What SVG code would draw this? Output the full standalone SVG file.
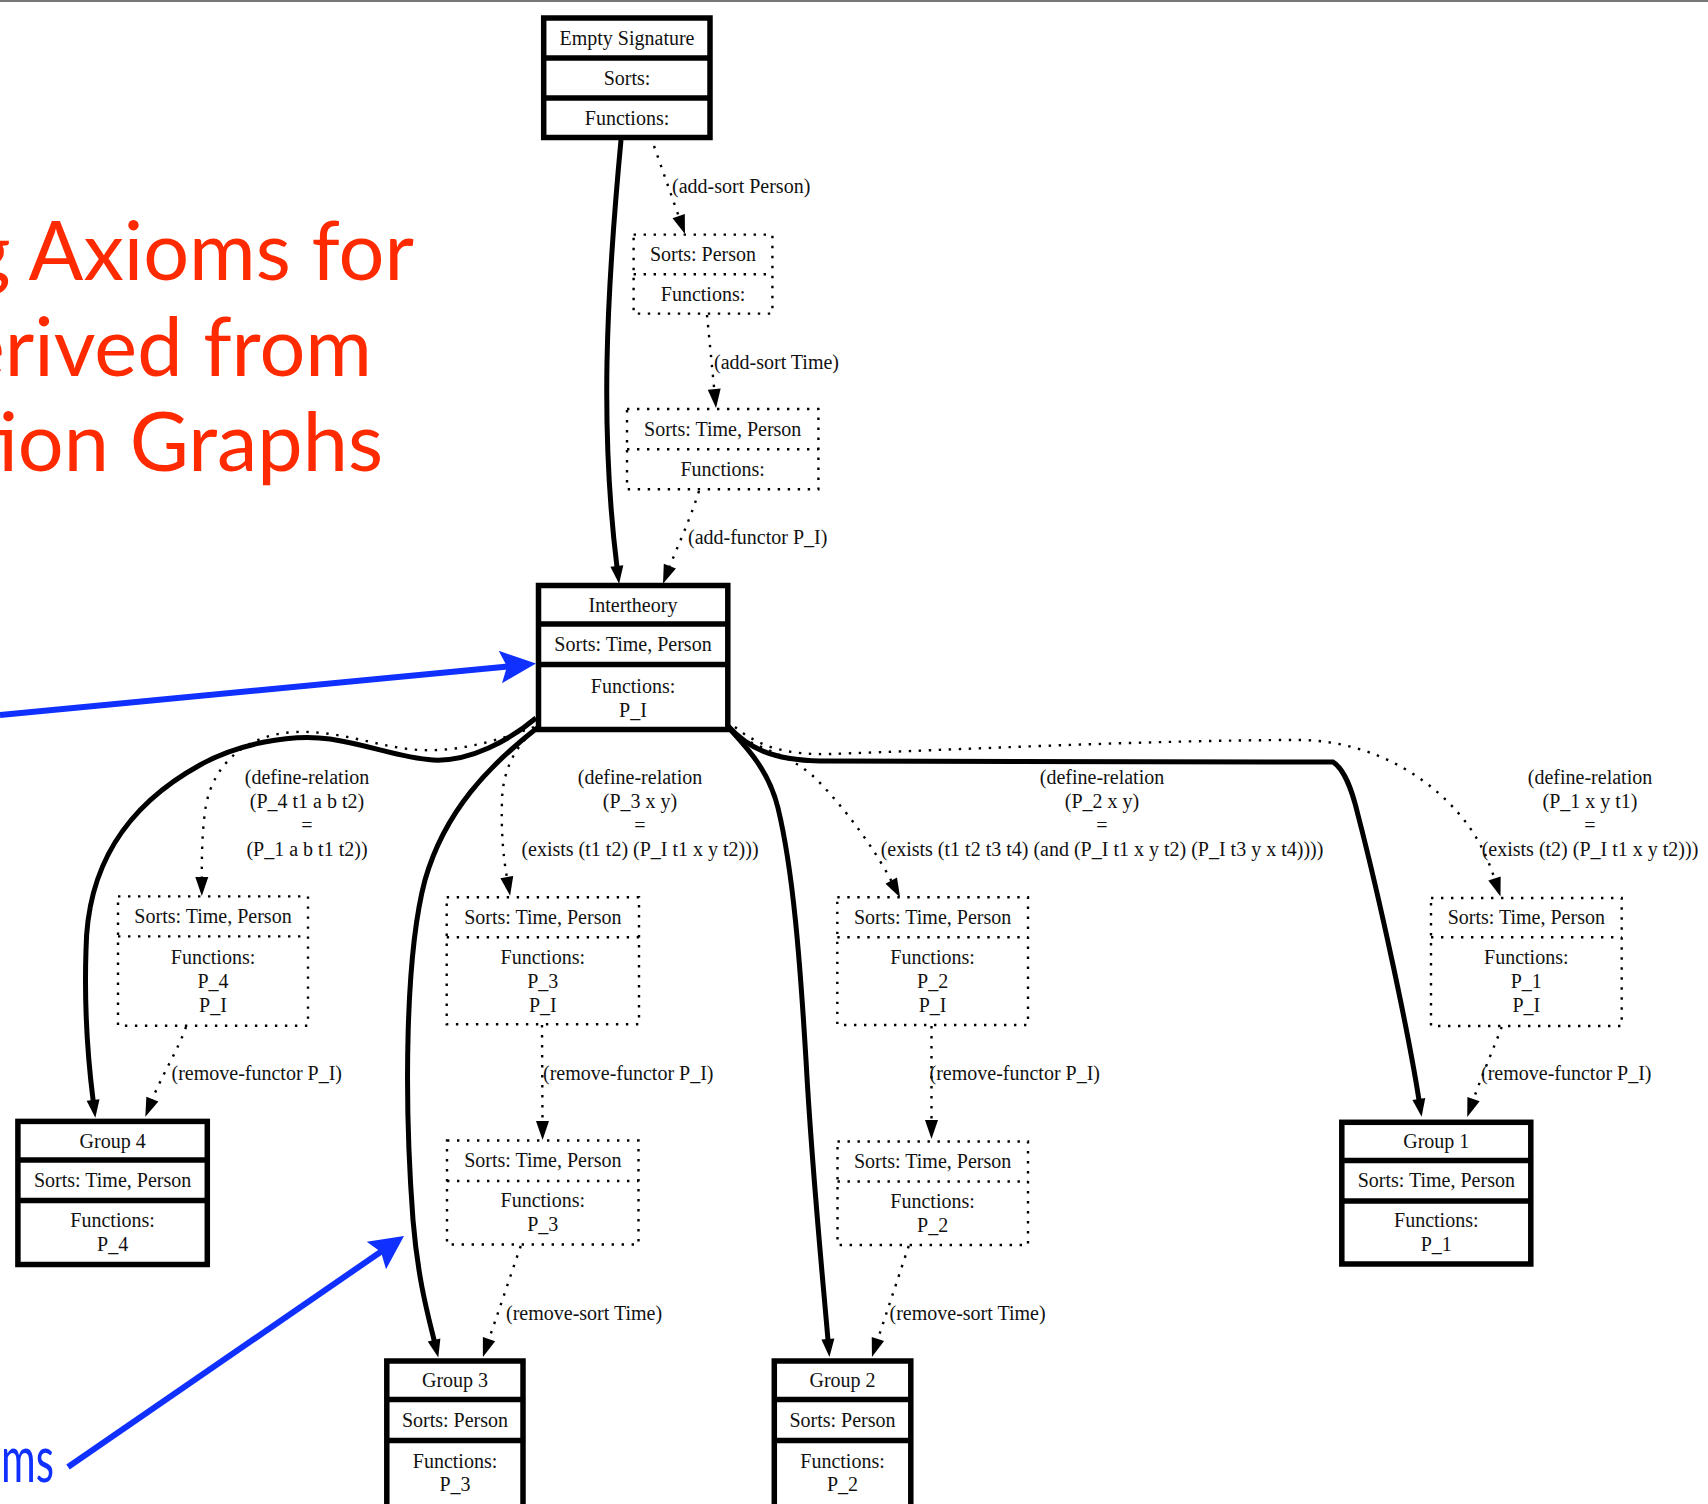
<svg xmlns="http://www.w3.org/2000/svg" width="1708" height="1504" viewBox="0 0 1708 1504">
<defs>
<style>
.sb{fill:#fff;stroke:#000;stroke-width:5.5}
.sd{stroke:#000;stroke-width:5.5;fill:none}
.db{fill:none;stroke:#000;stroke-width:2.4;stroke-dasharray:2.4 7.6}
.t{font-family:"Liberation Serif","Times New Roman",serif;font-size:20px;fill:#111;text-anchor:middle}
.l{font-family:"Liberation Serif","Times New Roman",serif;font-size:20px;fill:#111}
.es{fill:none;stroke:#000;stroke-width:5;marker-end:url(#ahs)}
.ed{fill:none;stroke:#000;stroke-width:2.4;stroke-dasharray:2.4 7.6;marker-end:url(#ahd)}
.title{font-family:Lato,"Open Sans",sans-serif;font-size:81px;fill:#ff2a00;text-anchor:end}
.btxt{font-family:Lato,"Open Sans",sans-serif;font-size:64px;fill:#1030ff}
.bl{stroke:#1030ff;stroke-width:6;fill:none}
.bh{fill:#1030ff}
</style>
<marker id="ahs" viewBox="-2 -8 21 16" markerWidth="21" markerHeight="16" refX="0" refY="0" orient="auto" markerUnits="userSpaceOnUse"><path d="M-1,-6.5 L17,0 L-1,6.5 z" fill="#000"/></marker>
<marker id="ahd" viewBox="-2 -8 21 16" markerWidth="21" markerHeight="16" refX="0" refY="0" orient="auto" markerUnits="userSpaceOnUse"><path d="M-1,-6.5 L18,0 L-1,6.5 z" fill="#000"/></marker>
</defs>
<rect x="0" y="0" width="1708" height="1504" fill="#fff"/>
<rect x="0" y="0" width="1708" height="2" fill="#777"/>

<g id="title">
<text class="title" x="414" y="280">g Axioms for</text>
<text class="title" x="372" y="376">erived from</text>
<text class="title" x="383" y="471">tion Graphs</text>
<text class="btxt" x="1" y="1482" textLength="53" lengthAdjust="spacingAndGlyphs">ms</text>
</g>

<g id="edges">
<path class="es" d="M621,140 C606,300 600,430 617,567"/>
<path class="ed" d="M654,146 L679,217"/>
<path class="ed" d="M707,315 L714.3,390"/>
<path class="ed" d="M699,491 C690,520 678,545 669.5,567"/>
<path class="es" d="M536,718 C510,740 470,762 433,760 C400,758 370,745 330,739 C290,733 235,745 200,765 C122,808 87,870 86,950 C84,1010 88,1060 93.2,1101"/>
<path class="ed" d="M534,727 C500,740 460,752 420,750 C380,748 340,730 295,732 C250,734 215,760 206,805 C202,830 201.8,855 201.8,878"/>
<path class="es" d="M537,728 C490,765 445,810 425,880 C405,955 404,1100 413,1220 C418,1280 428,1315 434.3,1341"/>
<path class="ed" d="M532,732 C515,748 503,770 502,800 C501,830 503,855 507,878"/>
<path class="es" d="M728,727 C745,746 768,768 778,808 C793,870 800,960 806,1060 C812,1170 822,1270 828,1340"/>
<path class="ed" d="M733,733 C765,752 795,755 822,785 C850,815 875,850 891.7,881.5"/>
<path class="es" d="M728,726 C748,748 772,760 820,761 L1333,762 C1345,770 1352,790 1358,815 C1380,900 1408,1030 1419,1100"/>
<path class="ed" d="M735,727 C760,748 790,755 830,754 C950,750 1150,740 1300,740 C1380,741 1440,785 1470,828 C1482,845 1489,862 1494.8,879.4"/>
<path class="ed" d="M186,1027 C178,1050 162,1075 152,1100"/>
<path class="ed" d="M542,1025 L542.5,1122"/>
<path class="ed" d="M520.7,1246 L488.7,1340"/>
<path class="ed" d="M931.5,1026 L931.5,1121"/>
<path class="ed" d="M908.7,1246 L877.6,1340"/>
<path class="ed" d="M1501.7,1027 C1495,1045 1482,1075 1473.2,1100"/>
</g>

<g id="edge-labels">
<text class="l" x="672" y="192.5">(add-sort Person)</text>
<text class="l" x="714" y="368.5">(add-sort Time)</text>
<text class="l" x="688" y="543.5">(add-functor P_I)</text>
<text class="t" x="307" y="784">(define-relation</text>
<text class="t" x="307" y="808">(P_4 t1 a b t2)</text>
<text class="t" x="307" y="832">=</text>
<text class="t" x="307" y="856">(P_1 a b t1 t2))</text>
<text class="t" x="640" y="784">(define-relation</text>
<text class="t" x="640" y="808">(P_3 x y)</text>
<text class="t" x="640" y="832">=</text>
<text class="t" x="640" y="856">(exists (t1 t2) (P_I t1 x y t2)))</text>
<text class="t" x="1102" y="784">(define-relation</text>
<text class="t" x="1102" y="808">(P_2 x y)</text>
<text class="t" x="1102" y="832">=</text>
<text class="t" x="1102" y="856">(exists (t1 t2 t3 t4) (and (P_I t1 x y t2) (P_I t3 y x t4))))</text>
<text class="t" x="1590" y="784">(define-relation</text>
<text class="t" x="1590" y="808">(P_1 x y t1)</text>
<text class="t" x="1590" y="832">=</text>
<text class="t" x="1590" y="856">(exists (t2) (P_I t1 x y t2)))</text>
<text class="l" x="171.5" y="1079.5">(remove-functor P_I)</text>
<text class="l" x="543" y="1079.5">(remove-functor P_I)</text>
<text class="l" x="929.5" y="1079.5">(remove-functor P_I)</text>
<text class="l" x="1481" y="1079.5">(remove-functor P_I)</text>
<text class="l" x="506" y="1319.5">(remove-sort Time)</text>
<text class="l" x="889.5" y="1319.5">(remove-sort Time)</text>
</g>

<g id="n_empty">
<rect class="sb" x="543.7" y="18" width="166.3" height="119.5"/>
<path class="sd" d="M543.7,58 H710 M543.7,98 H710"/>
<text class="t" x="627" y="45">Empty Signature</text>
<text class="t" x="627" y="85">Sorts:</text>
<text class="t" x="627" y="124.5">Functions:</text>
</g>

<g id="n_person">
<rect class="db" x="633.6" y="234.6" width="138.8" height="79"/>
<path class="db" d="M633.6,274.3 H772.4"/>
<text class="t" x="703" y="261">Sorts: Person</text>
<text class="t" x="703" y="300.5">Functions:</text>
</g>

<g id="n_timeperson">
<rect class="db" x="627" y="409" width="191.4" height="80.3"/>
<path class="db" d="M627,449.3 H818.4"/>
<text class="t" x="722.7" y="435.5">Sorts: Time, Person</text>
<text class="t" x="722.7" y="476">Functions:</text>
</g>

<g id="n_intertheory">
<rect class="sb" x="538.5" y="585.5" width="189.3" height="144"/>
<path class="sd" d="M538.5,624 H727.8 M538.5,664.5 H727.8"/>
<text class="t" x="633" y="611.5">Intertheory</text>
<text class="t" x="633" y="651">Sorts: Time, Person</text>
<text class="t" x="633" y="692.5">Functions:</text>
<text class="t" x="633" y="716.5">P_I</text>
</g>

<g id="n_p4">
<rect class="db" x="118" y="896.4" width="190" height="129.3"/>
<path class="db" d="M118,936.4 H308"/>
<text class="t" x="213" y="923">Sorts: Time, Person</text>
<text class="t" x="213" y="963.5">Functions:</text>
<text class="t" x="213" y="987.5">P_4</text>
<text class="t" x="213" y="1011.5">P_I</text>
</g>

<g id="n_group4">
<rect class="sb" x="17.9" y="1121.4" width="189.4" height="143.1"/>
<path class="sd" d="M17.9,1160 H207.3 M17.9,1200.5 H207.3"/>
<text class="t" x="112.6" y="1147.5">Group 4</text>
<text class="t" x="112.6" y="1187">Sorts: Time, Person</text>
<text class="t" x="112.6" y="1227">Functions:</text>
<text class="t" x="112.6" y="1251">P_4</text>
</g>

<g id="n_p3a">
<rect class="db" x="446.7" y="897.3" width="192.3" height="127"/>
<path class="db" d="M446.7,937.3 H639"/>
<text class="t" x="542.8" y="923.5">Sorts: Time, Person</text>
<text class="t" x="542.8" y="963.5">Functions:</text>
<text class="t" x="542.8" y="987.5">P_3</text>
<text class="t" x="542.8" y="1011.5">P_I</text>
</g>

<g id="n_p3b">
<rect class="db" x="447" y="1140.5" width="191.5" height="104"/>
<path class="db" d="M447,1181 H638.5"/>
<text class="t" x="542.8" y="1167">Sorts: Time, Person</text>
<text class="t" x="542.8" y="1206.5">Functions:</text>
<text class="t" x="542.8" y="1230.5">P_3</text>
</g>

<g id="n_group3">
<rect class="sb" x="386.8" y="1361" width="136.2" height="150"/>
<path class="sd" d="M386.8,1399.5 H523 M386.8,1440.5 H523"/>
<text class="t" x="455" y="1386.5">Group 3</text>
<text class="t" x="455" y="1427">Sorts: Person</text>
<text class="t" x="455" y="1467.5">Functions:</text>
<text class="t" x="455" y="1491">P_3</text>
</g>

<g id="n_p2a">
<rect class="db" x="837.3" y="897.3" width="190.7" height="127.7"/>
<path class="db" d="M837.3,937.3 H1028"/>
<text class="t" x="932.6" y="923.5">Sorts: Time, Person</text>
<text class="t" x="932.6" y="963.5">Functions:</text>
<text class="t" x="932.6" y="987.5">P_2</text>
<text class="t" x="932.6" y="1011.5">P_I</text>
</g>

<g id="n_p2b">
<rect class="db" x="837.5" y="1141.5" width="190.5" height="103.5"/>
<path class="db" d="M837.5,1181.5 H1028"/>
<text class="t" x="932.6" y="1168">Sorts: Time, Person</text>
<text class="t" x="932.6" y="1207.5">Functions:</text>
<text class="t" x="932.6" y="1231.5">P_2</text>
</g>

<g id="n_group2">
<rect class="sb" x="774.3" y="1361" width="136.5" height="150"/>
<path class="sd" d="M774.3,1399.5 H910.8 M774.3,1440.5 H910.8"/>
<text class="t" x="842.5" y="1386.5">Group 2</text>
<text class="t" x="842.5" y="1427">Sorts: Person</text>
<text class="t" x="842.5" y="1467.5">Functions:</text>
<text class="t" x="842.5" y="1491">P_2</text>
</g>

<g id="n_p1">
<rect class="db" x="1431" y="898" width="190.7" height="128"/>
<path class="db" d="M1431,937.3 H1621.7"/>
<text class="t" x="1526.3" y="924">Sorts: Time, Person</text>
<text class="t" x="1526.3" y="963.5">Functions:</text>
<text class="t" x="1526.3" y="988">P_1</text>
<text class="t" x="1526.3" y="1011.5">P_I</text>
</g>

<g id="n_group1">
<rect class="sb" x="1341.8" y="1122.3" width="189" height="141.7"/>
<path class="sd" d="M1341.8,1160.5 H1530.8 M1341.8,1201 H1530.8"/>
<text class="t" x="1436.3" y="1147.5">Group 1</text>
<text class="t" x="1436.3" y="1187">Sorts: Time, Person</text>
<text class="t" x="1436.3" y="1227">Functions:</text>
<text class="t" x="1436.3" y="1251">P_1</text>
</g>

<g id="callouts">
<path class="bl" d="M0,715 L508,666.5"/>
<path class="bh" d="M536,663.5 L498.7,650.8 L507,666.6 L502,683.2 z"/>
<path class="bl" d="M68,1467 L382,1251"/>
<path class="bh" d="M404,1236 L366.7,1241.7 L381,1252 L386,1269.3 z"/>
</g>
</svg>
